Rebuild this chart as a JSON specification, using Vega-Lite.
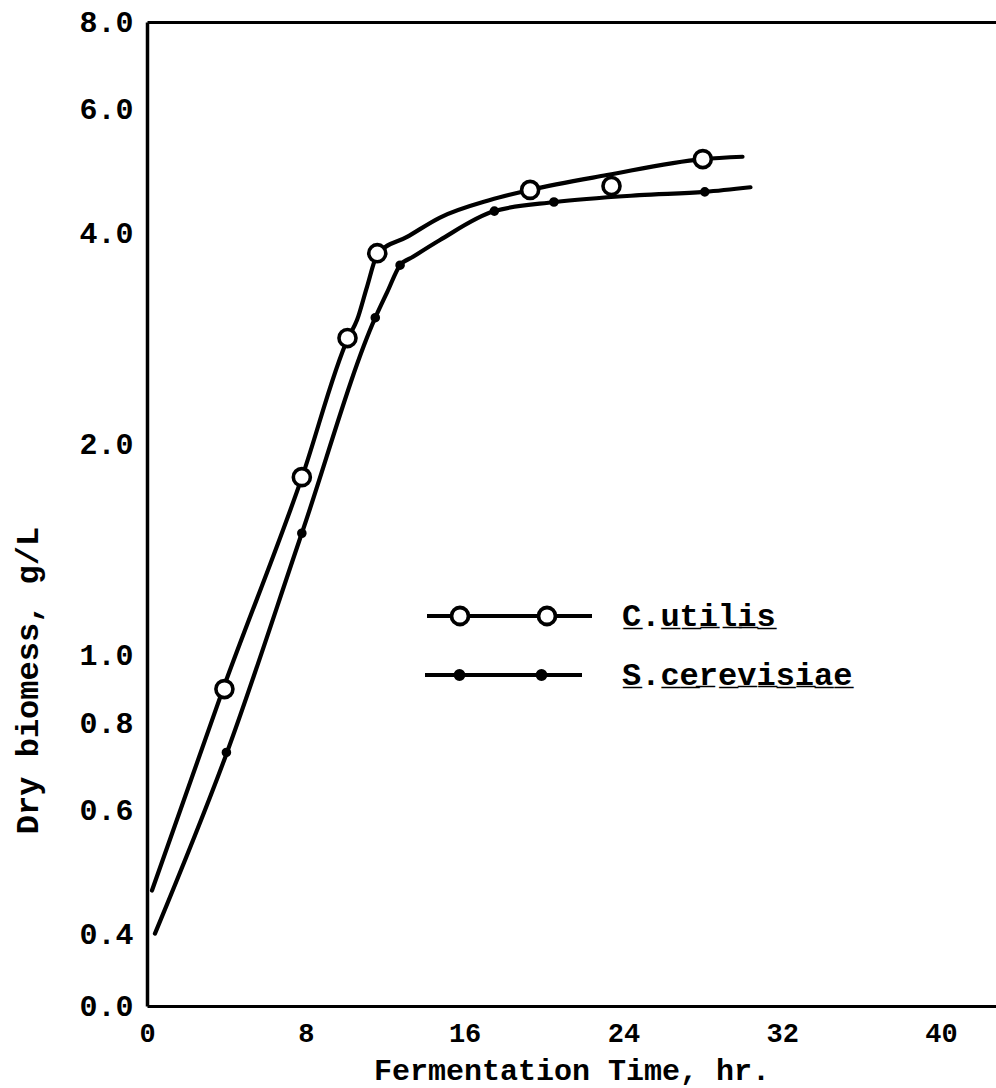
{
  "$schema": "https://vega.github.io/schema/vega-lite/v6.json",
  "width": 849,
  "height": 984,
  "autosize": {"type": "none"},
  "padding": {"left": 147, "top": 22, "right": 0, "bottom": 82},
  "background": "white",
  "config": {
    "view": {"stroke": null},
    "font": "Liberation Mono"
  },
  "datasets": {
    "curves": [
      {"series": "C.utilis", "time": 0.25, "biomass": 0.462},
      {"series": "C.utilis", "time": 3.83, "biomass": 0.895},
      {"series": "C.utilis", "time": 7.81, "biomass": 1.795},
      {"series": "C.utilis", "time": 10.13, "biomass": 2.834},
      {"series": "C.utilis", "time": 10.58, "biomass": 3.006},
      {"series": "C.utilis", "time": 11.08, "biomass": 3.35},
      {"series": "C.utilis", "time": 11.64, "biomass": 3.745},
      {"series": "C.utilis", "time": 13.1, "biomass": 3.95},
      {"series": "C.utilis", "time": 14.76, "biomass": 4.21},
      {"series": "C.utilis", "time": 17.28, "biomass": 4.46},
      {"series": "C.utilis", "time": 19.3, "biomass": 4.61},
      {"series": "C.utilis", "time": 23.17, "biomass": 4.84},
      {"series": "C.utilis", "time": 28.0, "biomass": 5.1},
      {"series": "C.utilis", "time": 30.0, "biomass": 5.14},
      {"series": "S.cerevisiae", "time": 0.4, "biomass": 0.401},
      {"series": "S.cerevisiae", "time": 4.03, "biomass": 0.727},
      {"series": "S.cerevisiae", "time": 7.8, "biomass": 1.493},
      {"series": "S.cerevisiae", "time": 11.5, "biomass": 3.03},
      {"series": "S.cerevisiae", "time": 12.1, "biomass": 3.295},
      {"series": "S.cerevisiae", "time": 12.75, "biomass": 3.6},
      {"series": "S.cerevisiae", "time": 13.4, "biomass": 3.7},
      {"series": "S.cerevisiae", "time": 14.76, "biomass": 3.91},
      {"series": "S.cerevisiae", "time": 17.5, "biomass": 4.3},
      {"series": "S.cerevisiae", "time": 20.55, "biomass": 4.43},
      {"series": "S.cerevisiae", "time": 24.8, "biomass": 4.53},
      {"series": "S.cerevisiae", "time": 28.1, "biomass": 4.58},
      {"series": "S.cerevisiae", "time": 30.4, "biomass": 4.65}
    ],
    "points": [
      {"series": "C.utilis", "time": 3.9, "biomass": 0.895},
      {"series": "C.utilis", "time": 7.8, "biomass": 1.795},
      {"series": "C.utilis", "time": 10.1, "biomass": 2.834},
      {"series": "C.utilis", "time": 11.6, "biomass": 3.745},
      {"series": "C.utilis", "time": 19.3, "biomass": 4.61},
      {"series": "C.utilis", "time": 23.4, "biomass": 4.67},
      {"series": "C.utilis", "time": 28.0, "biomass": 5.1},
      {"series": "S.cerevisiae", "time": 4.0, "biomass": 0.727},
      {"series": "S.cerevisiae", "time": 7.8, "biomass": 1.493},
      {"series": "S.cerevisiae", "time": 11.5, "biomass": 3.03},
      {"series": "S.cerevisiae", "time": 12.75, "biomass": 3.6},
      {"series": "S.cerevisiae", "time": 17.5, "biomass": 4.3},
      {"series": "S.cerevisiae", "time": 20.5, "biomass": 4.43},
      {"series": "S.cerevisiae", "time": 28.1, "biomass": 4.58}
    ]
  },
  "resolve": {"axis": {"x": "independent"}},
  "layer": [
    {
      "data": {"name": "curves"},
      "mark": {"type": "line", "color": "black", "strokeWidth": 4.2, "interpolate": "monotone", "strokeCap": "round"},
      "encoding": {
        "x": {
          "field": "time", "type": "quantitative",
          "scale": {"domain": [0, 42.77], "nice": false, "zero": false},
          "axis": {
            "values": [0, 8, 16, 24, 32, 40], "format": "d",
            "ticks": false, "grid": false, "labelFlush": false, "labelOverlap": false,
            "domainColor": "black", "domainWidth": 3,
            "labelFont": "Liberation Mono", "labelFontWeight": "bold", "labelFontSize": 27, "labelColor": "black", "labelPadding": 14,
            "title": "Fermentation Time, hr.",
            "titleFont": "Liberation Mono", "titleFontWeight": "bold", "titleFontSize": 30, "titleColor": "black", "titlePadding": 9
          }
        },
        "y": {
          "field": "biomass", "type": "quantitative",
          "scale": {"type": "log", "domain": [0.3162, 8], "nice": false, "zero": false},
          "axis": {
            "values": [0.3162, 0.4, 0.6, 0.8, 1, 2, 4, 6, 8],
            "labelExpr": "datum.value < 0.35 ? '0.0' : format(datum.value, '.1f')",
            "ticks": false, "grid": false, "labelFlush": false, "labelOverlap": false,
            "domainColor": "black", "domainWidth": 3.5,
            "labelFont": "Liberation Mono", "labelFontWeight": "bold", "labelFontSize": 30, "labelColor": "black", "labelPadding": 14,
            "title": "Dry biomess, g/L",
            "titleFont": "Liberation Mono", "titleFontWeight": "bold", "titleFontSize": 32, "titleColor": "black",
            "titleAngle": 270, "titleAlign": "center", "titleBaseline": "middle",
            "titleX": -120, "titleY": 658
          }
        },
        "detail": {"field": "series", "type": "nominal"}
      }
    },
    {
      "data": {"name": "points"},
      "mark": {"type": "point", "shape": "circle", "filled": true, "stroke": "black", "strokeWidth": 3.6, "opacity": 1},
      "encoding": {
        "x": {
          "field": "time", "type": "quantitative",
          "scale": {"domain": [0, 42.77], "nice": false, "zero": false},
          "axis": {"orient": "top", "labels": false, "ticks": false, "grid": false, "title": null, "domainColor": "black", "domainWidth": 3}
        },
        "y": {"field": "biomass", "type": "quantitative"},
        "size": {"condition": {"test": "datum.series === 'C.utilis'", "value": 290}, "value": 36},
        "fill": {"condition": {"test": "datum.series === 'C.utilis'", "value": "white"}, "value": "black"}
      }
    },
    {
      "data": {"name": "points"},
      "transform": [{"filter": "false"}],
      "mark": {"type": "point", "filled": true, "strokeWidth": 3.5, "opacity": 1},
      "encoding": {
        "shape": {
          "field": "series", "type": "nominal",
          "scale": {
            "domain": ["C.utilis", "S.cerevisiae"],
            "range": [
              "M-7.9,0H-5.45M-3.75,0H3.25M4.95,0H8.6M-3.75,0A0.85,0.85,0,1,1,-5.45,0A0.85,0.85,0,1,1,-3.75,0ZM4.95,0A0.85,0.85,0,1,1,3.25,0A0.85,0.85,0,1,1,4.95,0Z",
              "M-8.1,0H7.6M-4.25,0A0.4,0.4,0,1,1,-5.05,0A0.4,0.4,0,1,1,-4.25,0ZM3.95,0A0.4,0.4,0,1,1,3.15,0A0.4,0.4,0,1,1,3.95,0Z"
            ]
          },
          "legend": {
            "orient": "none", "legendX": 343, "legendY": 578, "title": null, "padding": 0,
            "labelFont": "Liberation Mono", "labelFontWeight": "bold", "labelFontSize": 32, "labelColor": "black",
            "labelOffset": 100, "labelLimit": 500, "rowPadding": 26, "symbolSize": 400,
            "symbolStrokeWidth": 3.8, "symbolOpacity": 1,
            "labelExpr": "datum.label === 'C.utilis' ? 'C̲.u̲t̲i̲l̲i̲s̲' : 'S̲.c̲e̲r̲e̲v̲i̲s̲i̲a̲e̲'"
          }
        },
        "fill": {
          "field": "series", "type": "nominal",
          "scale": {"domain": ["C.utilis", "S.cerevisiae"], "range": ["white", "black"]},
          "legend": {
            "orient": "none", "legendX": 343, "legendY": 578, "title": null, "padding": 0,
            "labelFont": "Liberation Mono", "labelFontWeight": "bold", "labelFontSize": 32, "labelColor": "black",
            "labelOffset": 100, "labelLimit": 500, "rowPadding": 26, "symbolSize": 400,
            "symbolStrokeWidth": 3.8, "symbolOpacity": 1,
            "labelExpr": "datum.label === 'C.utilis' ? 'C̲.u̲t̲i̲l̲i̲s̲' : 'S̲.c̲e̲r̲e̲v̲i̲s̲i̲a̲e̲'"
          }
        },
        "stroke": {
          "field": "series", "type": "nominal",
          "scale": {"domain": ["C.utilis", "S.cerevisiae"], "range": ["black", "black"]},
          "legend": {
            "orient": "none", "legendX": 343, "legendY": 578, "title": null, "padding": 0,
            "labelFont": "Liberation Mono", "labelFontWeight": "bold", "labelFontSize": 32, "labelColor": "black",
            "labelOffset": 100, "labelLimit": 500, "rowPadding": 26, "symbolSize": 400,
            "symbolStrokeWidth": 3.8, "symbolOpacity": 1,
            "labelExpr": "datum.label === 'C.utilis' ? 'C̲.u̲t̲i̲l̲i̲s̲' : 'S̲.c̲e̲r̲e̲v̲i̲s̲i̲a̲e̲'"
          }
        }
      }
    }
  ]
}
